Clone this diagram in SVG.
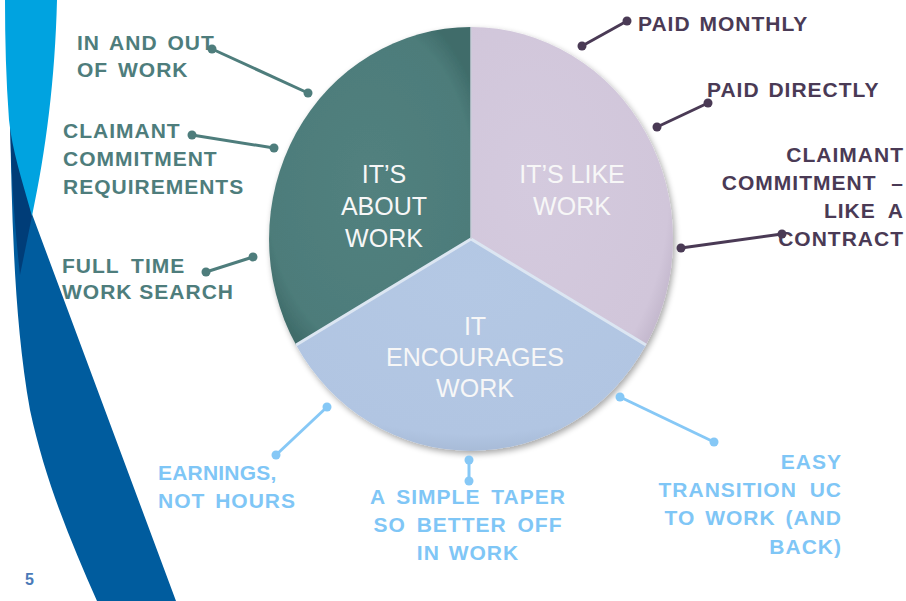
<svg xmlns="http://www.w3.org/2000/svg" width="906" height="601" viewBox="0 0 906 601">
  <defs>
    <style>
      .lbl { font-family: "Liberation Sans", Arial, sans-serif; font-weight: bold; font-size: 21px; letter-spacing: 1px; }
      .teal { fill: #4E7D7C; }
      .purp { fill: #4A3A55; }
      .lblue { fill: #7FC6F6; }
      .pie { font-family: "Liberation Sans", Arial, sans-serif; font-size: 25px; fill: #F7F7F7; text-anchor: middle; }
      .c-teal { stroke: #4E7D7C; stroke-width: 3; fill: none; }
      .c-purp { stroke: #4A3A55; stroke-width: 3; fill: none; }
      .c-blue { stroke: #86C8F6; stroke-width: 3; fill: none; }
      .d-teal { fill: #4E7D7C; }
      .d-purp { fill: #4A3A55; }
      .d-blue { fill: #86C8F6; }
    </style>
    <radialGradient id="gTeal" cx="0.5" cy="0.5" r="0.6">
      <stop offset="0" stop-color="#52817F"/>
      <stop offset="0.85" stop-color="#4D7C7A"/>
      <stop offset="1" stop-color="#3F6C6A"/>
    </radialGradient>
    <radialGradient id="gLav" cx="0.3" cy="0.5" r="0.8">
      <stop offset="0" stop-color="#D4CADE"/>
      <stop offset="0.85" stop-color="#D1C6DA"/>
      <stop offset="1" stop-color="#BCB0C6"/>
    </radialGradient>
    <radialGradient id="gBlue" cx="0.5" cy="0.2" r="0.9">
      <stop offset="0" stop-color="#B4C8E4"/>
      <stop offset="0.8" stop-color="#B1C5E2"/>
      <stop offset="1" stop-color="#9CAFCB"/>
    </radialGradient>
    <filter id="shadow" x="-10%" y="-10%" width="120%" height="120%">
      <feGaussianBlur in="SourceAlpha" stdDeviation="3"/>
      <feOffset dx="2" dy="3"/>
      <feComponentTransfer><feFuncA type="linear" slope="0.35"/></feComponentTransfer>
      <feMerge><feMergeNode/><feMergeNode in="SourceGraphic"/></feMerge>
    </filter>
  </defs>

  <rect width="906" height="601" fill="#FFFFFF"/>

  <!-- background ribbons -->
  <g id="ribbons">
    <path d="M10,115 C12,220 14,320 30,410 C45,480 70,540 97,601 L176,601 L32,214 Z" fill="#005C9E"/>
    <path d="M10,118 L32,216 L20,275 C14,220 11,170 10,118 Z" fill="#003D78"/>
    <path d="M5,0 L57,0 C55,80 46,150 32,216 C22,180 12,150 9,120 C6,80 5,40 5,0 Z" fill="#00A3E0"/>
  </g>

  <!-- pie -->
  <g id="pie" filter="url(#shadow)">
    <g id="slice-about">
      <path d="M471,239 L471,27 A202,212 0 0 0 296.1,345 Z" fill="url(#gTeal)"/>
    </g>
    <g id="slice-like">
      <path d="M471,239 L471,27 A202,212 0 0 1 645.9,345 Z" fill="url(#gLav)"/>
    </g>
    <g id="slice-encourages">
      <path d="M471,239 L296.1,345 A202,212 0 0 0 645.9,345 Z" fill="url(#gBlue)"/>
    </g>
  </g>
  <g id="pie-dividers" stroke="#DCE6F2" stroke-width="3" fill="none">
    <path d="M296.1,345 L471,239 L645.9,345"/>
    <path d="M471,27 L471,239" stroke="#C9CCD8" stroke-width="1.5"/>
  </g>

  <g id="pie-labels">
    <text class="pie" x="384" y="183">IT’S</text>
    <text class="pie" x="384" y="215">ABOUT</text>
    <text class="pie" x="384" y="247">WORK</text>
    <text class="pie" x="572" y="183">IT’S LIKE</text>
    <text class="pie" x="572" y="215">WORK</text>
    <text class="pie" x="475" y="335">IT</text>
    <text class="pie" x="475" y="366">ENCOURAGES</text>
    <text class="pie" x="475" y="397">WORK</text>
  </g>

  <!-- connectors -->
  <g id="connectors">
    <line class="c-teal" x1="212" y1="49" x2="308" y2="93"/>
    <circle class="d-teal" cx="212" cy="49" r="4.5"/><circle class="d-teal" cx="308" cy="93" r="4.5"/>
    <line class="c-teal" x1="192" y1="135" x2="274" y2="148"/>
    <circle class="d-teal" cx="192" cy="135" r="4.5"/><circle class="d-teal" cx="274" cy="148" r="4.5"/>
    <line class="c-teal" x1="206" y1="272" x2="253" y2="257"/>
    <circle class="d-teal" cx="206" cy="272" r="4.5"/><circle class="d-teal" cx="253" cy="257" r="4.5"/>

    <line class="c-purp" x1="582" y1="46" x2="627" y2="21"/>
    <circle class="d-purp" cx="582" cy="46" r="4.5"/><circle class="d-purp" cx="627" cy="21" r="4.5"/>
    <line class="c-purp" x1="657" y1="127" x2="708" y2="103"/>
    <circle class="d-purp" cx="657" cy="127" r="4.5"/><circle class="d-purp" cx="708" cy="103" r="4.5"/>
    <line class="c-purp" x1="681" y1="248" x2="782" y2="234"/>
    <circle class="d-purp" cx="681" cy="248" r="4.5"/><circle class="d-purp" cx="782" cy="234" r="4.5"/>

    <line class="c-blue" x1="327" y1="407" x2="276" y2="455"/>
    <circle class="d-blue" cx="327" cy="407" r="4.5"/><circle class="d-blue" cx="276" cy="455" r="4.5"/>
    <line class="c-blue" x1="469" y1="460" x2="469" y2="481"/>
    <circle class="d-blue" cx="469" cy="460" r="4.5"/><circle class="d-blue" cx="469" cy="481" r="4.5"/>
    <line class="c-blue" x1="620" y1="397" x2="714" y2="442"/>
    <circle class="d-blue" cx="620" cy="397" r="4.5"/><circle class="d-blue" cx="714" cy="442" r="4.5"/>
  </g>

  <!-- left labels -->
  <g id="lbl-in-out" class="lbl teal">
    <text x="77" y="50" word-spacing="3">IN AND OUT</text>
    <text x="77" y="77" word-spacing="3">OF WORK</text>
  </g>
  <g id="lbl-claimant-req" class="lbl teal">
    <text x="63" y="138">CLAIMANT</text>
    <text x="63" y="166">COMMITMENT</text>
    <text x="63" y="194">REQUIREMENTS</text>
  </g>
  <g id="lbl-fulltime" class="lbl teal">
    <text x="62" y="273" word-spacing="5">FULL TIME</text>
    <text x="62" y="299">WORK SEARCH</text>
  </g>

  <!-- right labels -->
  <g id="lbl-monthly" class="lbl purp">
    <text x="638" y="31" word-spacing="2">PAID MONTHLY</text>
  </g>
  <g id="lbl-directly" class="lbl purp">
    <text x="707" y="97" word-spacing="2">PAID DIRECTLY</text>
  </g>
  <g id="lbl-contract" class="lbl purp" text-anchor="end">
    <text x="904" y="162">CLAIMANT</text>
    <text x="904" y="190" word-spacing="8">COMMITMENT –</text>
    <text x="904" y="218" word-spacing="6">LIKE A</text>
    <text x="904" y="246">CONTRACT</text>
  </g>

  <!-- bottom labels -->
  <g id="lbl-earnings" class="lbl lblue">
    <text x="158" y="480" letter-spacing="0.2">EARNINGS,</text>
    <text x="158" y="508" word-spacing="3">NOT HOURS</text>
  </g>
  <g id="lbl-taper" class="lbl lblue" text-anchor="middle">
    <text x="468" y="504" word-spacing="4">A SIMPLE TAPER</text>
    <text x="468" y="532" word-spacing="4">SO BETTER OFF</text>
    <text x="468" y="560" word-spacing="2">IN WORK</text>
  </g>
  <g id="lbl-transition" class="lbl lblue" text-anchor="end">
    <text x="842" y="469">EASY</text>
    <text x="842" y="497" word-spacing="6">TRANSITION UC</text>
    <text x="842" y="525" word-spacing="3">TO WORK (AND</text>
    <text x="842" y="554">BACK)</text>
  </g>

  <text id="page-num" x="25" y="585" font-family="'Liberation Sans', Arial, sans-serif" font-size="16" font-weight="bold" fill="#4A7AB8">5</text>
</svg>
